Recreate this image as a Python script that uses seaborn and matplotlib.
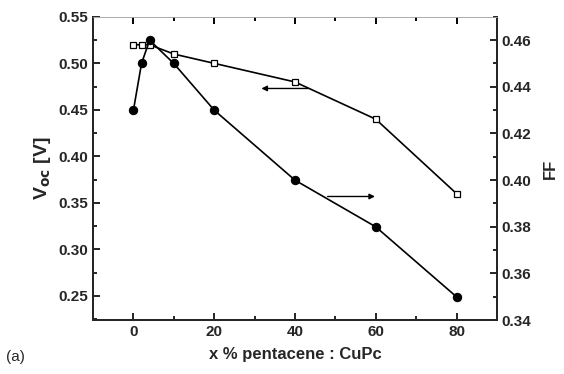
import matplotlib
matplotlib.use("Agg")
import matplotlib.pyplot as plt
import seaborn as sns
import pandas as pd
from matplotlib.ticker import MultipleLocator

sns.set_style("ticks")
plt.rcParams['font.family'] = ['Liberation Sans', 'DejaVu Sans']

x_pct = [0, 2, 4, 10, 20, 40, 60, 80]
voc = [0.52, 0.52, 0.52, 0.51, 0.50, 0.48, 0.44, 0.36]
ff = [0.43, 0.45, 0.46, 0.45, 0.43, 0.40, 0.38, 0.35]
left_ticks = [0.25, 0.30, 0.35, 0.40, 0.45, 0.50, 0.55]
right_ticks = [0.34, 0.36, 0.38, 0.40, 0.42, 0.44, 0.46]
x_ticks = [0, 20, 40, 60, 80]
x_minor = [10, 30, 50, 70]

df = pd.DataFrame({"x": x_pct, "voc": voc, "ff": ff})

fig = plt.figure(figsize=(5.64, 3.74), dpi=100)
ax = fig.add_axes([0.165, 0.144, 0.716, 0.811])
ax2 = ax.twinx()

sns.lineplot(data=df, x="x", y="voc", ax=ax, color="black", lw=1.2,
             marker="s", markersize=5, markerfacecolor="white",
             markeredgecolor="black", markeredgewidth=0.9)
sns.lineplot(data=df, x="x", y="ff", ax=ax2, color="black", lw=1.2,
             marker="o", markersize=6, markerfacecolor="black",
             markeredgecolor="black")
ax2.set_xlabel("")

ax.set_xlim(-10, 90)
ax.set_ylim(0.224, 0.55)
ax2.set_ylim(0.34, 0.47)
ax.set_xticks(x_ticks)
ax.set_yticks(left_ticks)
ax2.set_yticks(right_ticks)
ax.xaxis.set_minor_locator(MultipleLocator(10))
ax.yaxis.set_minor_locator(MultipleLocator(0.025))
ax2.yaxis.set_minor_locator(MultipleLocator(0.01))
ax.set_yticklabels([f"{v:.2f}" for v in left_ticks])
ax2.set_yticklabels([f"{v:.2f}" for v in right_ticks])

for a in (ax, ax2):
    a.tick_params(axis="y", which="major", direction="in", width=1.2,
                  length=5, labelsize=11, color="black")
    a.tick_params(axis="y", which="minor", direction="in", width=1.2,
                  length=3, color="black")
ax.tick_params(axis="x", which="major", top=True, bottom=True,
               direction="in", width=1.2, length=5, labelsize=11,
               color="black")
ax.tick_params(axis="x", which="minor", top=True, bottom=True,
               direction="in", width=1.2, length=3, color="black")
for a in (ax, ax2):
    for lbl in a.get_xticklabels() + a.get_yticklabels():
        lbl.set_fontweight("bold")

# top-edge ticks drawn explicitly at the tick positions (x in data, y in axes units)
xt = ax2.get_xaxis_transform()
ax2.vlines(x_ticks, 0.977, 1.0, transform=xt, color="black", lw=1.2, clip_on=False)
ax2.vlines(x_minor, 0.986, 1.0, transform=xt, color="black", lw=1.2, clip_on=False)

for s in ("left", "bottom", "right"):
    ax.spines[s].set_linewidth(1.4)
    ax2.spines[s].set_linewidth(1.4)
for a in (ax, ax2):
    a.spines["top"].set_linewidth(0.6)
    a.spines["top"].set_color("#aaaaaa")
ax2.set_xlim(-10, 90)

ax.set_xlabel("x % pentacene : CuPc", fontsize=12, fontweight="bold", labelpad=6)
ax.set_ylabel(r"V$_{\mathbf{oc}}$ [V]", fontsize=14, fontweight="bold", labelpad=4)
ax2.set_ylabel("FF", fontsize=12, fontweight="bold", labelpad=8)

ax.annotate("", xy=(31, 0.473), xytext=(44, 0.473),
            arrowprops=dict(arrowstyle="-|>", color="black", lw=1.0,
                            mutation_scale=8))
ax2.annotate("", xy=(60.5, 0.393), xytext=(47.4, 0.393),
             arrowprops=dict(arrowstyle="-|>", color="black", lw=1.0,
                             mutation_scale=8))

fig.text(0.01, 0.035, "(a)", fontsize=11)

fig.savefig("out.png", dpi=100)
